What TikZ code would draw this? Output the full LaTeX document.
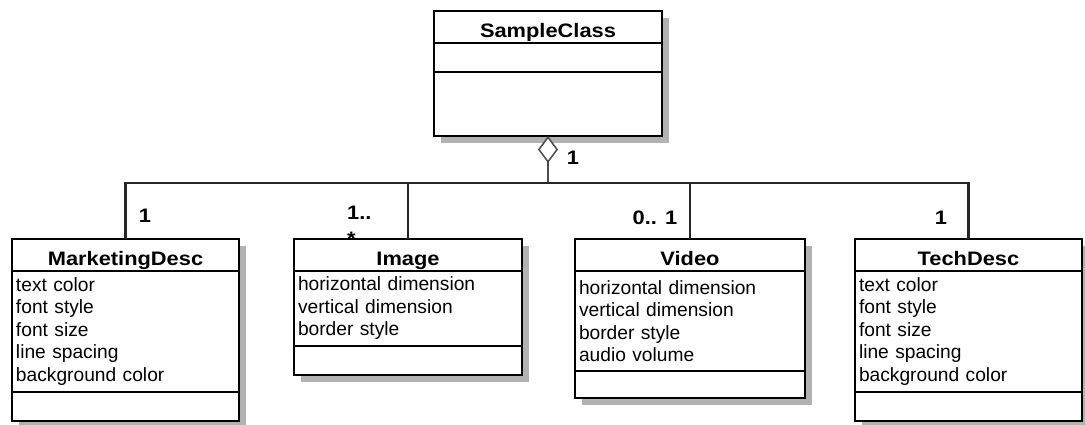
\documentclass[tikz,border=0pt]{standalone}
\usepackage{fontspec}
\setmainfont{Liberation Sans}
\newfontfamily\headfont[FakeStretch=1.12]{Liberation Sans}
\usetikzlibrary{arrows.meta, positioning, shadows}
\tikzset{
  % class compartments (draw.io look, grey offset shadow)
  cls/.style  ={draw, line width=2.6pt, fill=white, outer sep=0pt, inner sep=0pt,
                drop shadow={shadow xshift=7pt, shadow yshift=-7pt,
                             fill=black!30, opacity=1}},
  hdr/.style  ={cls, minimum height=32pt, text height=20pt, text depth=0pt,
                font=\headfont\bfseries\fontsize{19.5}{23}\selectfont},
  attrs/.style={cls, align=left, inner xsep=4pt,
                font=\fontsize{19.2}{22.5}\selectfont},
  conn/.style ={line width=2.6pt, black!85},
  agg/.style  ={-{Diamond[fill=white, length=27pt, width=20pt]},
                line width=1.5pt, black!70},
  mult/.style ={font=\headfont\bfseries\fontsize{19.5}{26}\selectfont,
                inner sep=0pt},
}
\begin{document}
\begin{tikzpicture}[x=1pt, y=-1pt]
  \useasboundingbox (0,0) rectangle (1085,424);
  % ---- whole: SampleClass
  \node[hdr, minimum width=228pt] (samp) at (548,27) {SampleClass};
  \node[cls, minimum width=228pt, minimum height=29pt, below=0pt of samp] (sampA) {};
  \node[cls, minimum width=228pt, minimum height=64pt, below=0pt of sampA] (sampO) {};
  % ---- parts
  \node[hdr, minimum width=227pt] (mkt) at (125.5,255) {MarketingDesc};
  \node[attrs, text width=219pt, minimum height=121pt, below=0pt of mkt] (mktA)
    {text color\\font style\\font size\\line spacing\\background color};
  \node[cls, minimum width=227pt, minimum height=29pt, below=0pt of mktA] (mktO) {};
  \node[hdr, minimum width=228pt] (img) at (408,255) {Image};
  \node[attrs, text width=220pt, minimum height=75pt, below=0pt of img] (imgA)
    {horizontal dimension\\vertical dimension\\border style};
  \node[cls, minimum width=228pt, minimum height=29pt, below=0pt of imgA] (imgO) {};
  \node[hdr, minimum width=230pt] (vid) at (690,255) {Video};
  \node[attrs, text width=222pt, minimum height=100pt, below=0pt of vid] (vidA)
    {horizontal dimension\\vertical dimension\\border style\\audio volume};
  \node[cls, minimum width=230pt, minimum height=27pt, below=0pt of vidA] (vidO) {};
  \node[hdr, minimum width=227pt] (tech) at (968.5,255) {TechDesc};
  \node[attrs, text width=219pt, minimum height=121pt, below=0pt of tech] (techA)
    {text color\\font style\\font size\\line spacing\\background color};
  \node[cls, minimum width=227pt, minimum height=29pt, below=0pt of techA] (techO) {};
  % ---- aggregation tree
  \coordinate (jn) at (548,183);
  \draw[agg] (jn) -- (sampO.south);
  \draw[conn] (jn) -| (mkt.north);
  \draw[conn] (jn) -| (img.north);
  \draw[conn] (jn) -| (vid.north);
  \draw[conn] (jn) -| (tech.north);
  % ---- multiplicities
  \node[mult] (mSamp) at (573,158) {1};
  \node[mult] (mMkt)  at (145,216) {1};
  \node[mult, align=left, anchor=north west] (mImg) at (347,206) {1..\\*};
  \node[mult] (mVid)  at (655,218) {0.. 1};
  \node[mult] (mTech) at (941,218) {1};
\end{tikzpicture}
\end{document}
